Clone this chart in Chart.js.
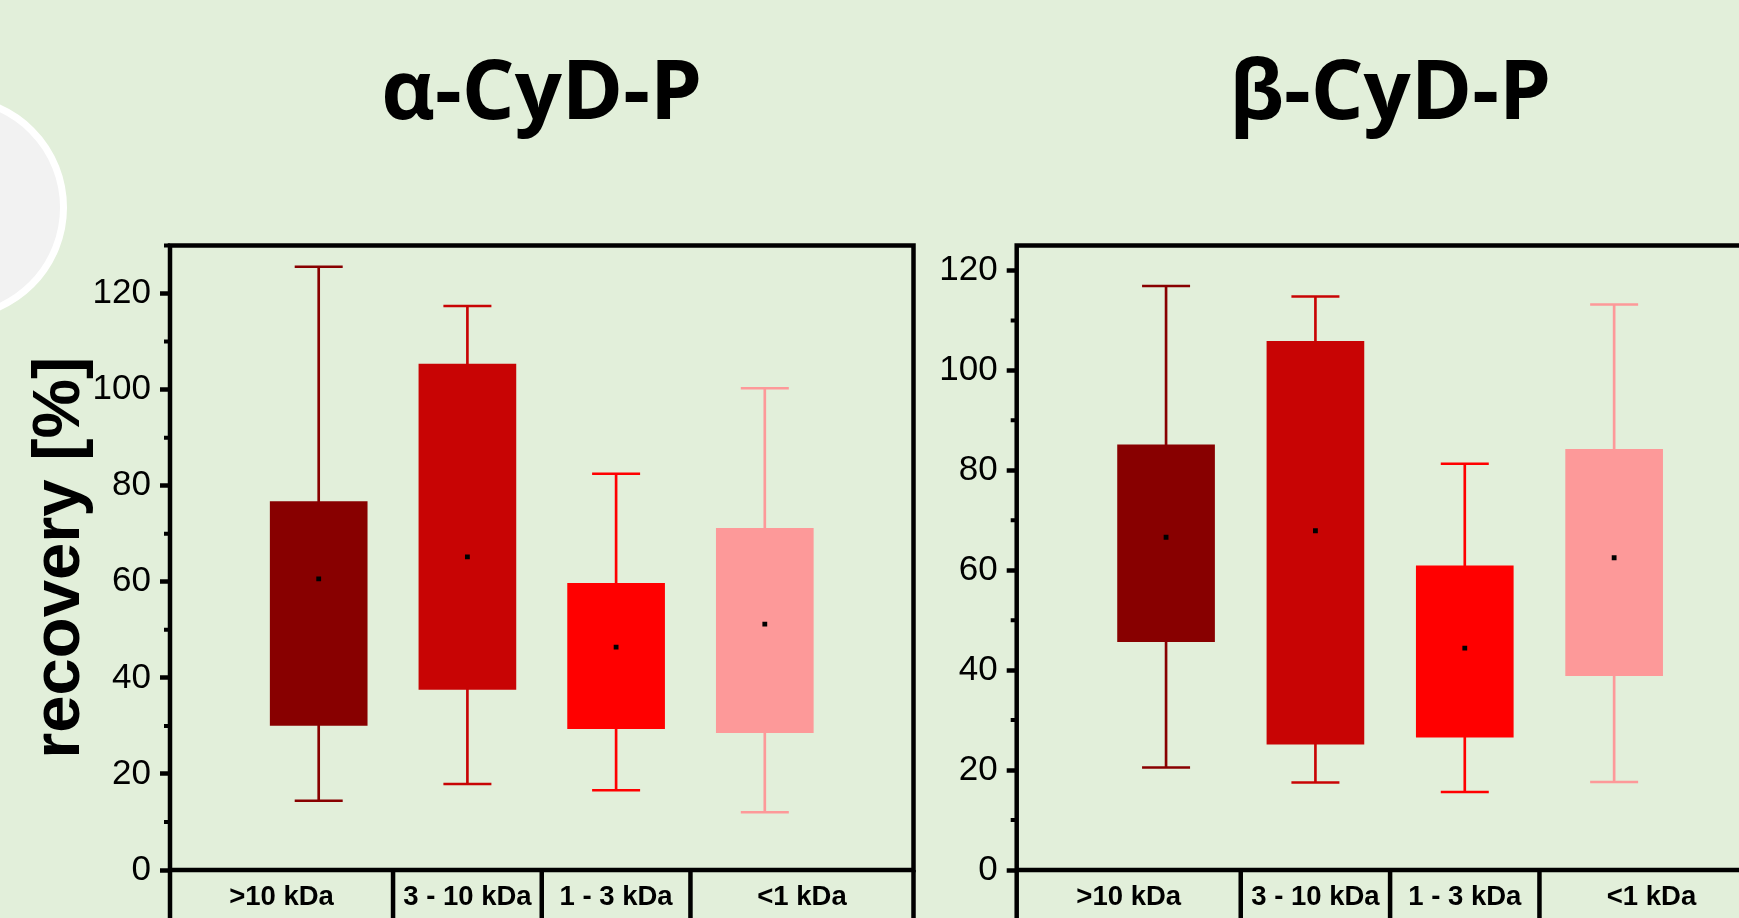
<!DOCTYPE html>
<html>
<head>
<meta charset="utf-8">
<script src="https://cdn.jsdelivr.net/npm/chart.js@4.4.1/dist/chart.umd.min.js"></script>
<style>
html,body{margin:0;padding:0;}
body{width:1739px;height:918px;overflow:hidden;position:relative;background:#e2efda;}
#badge{position:absolute;left:-158px;top:95px;width:225px;height:225px;box-sizing:border-box;border:7px solid #fff;border-radius:50%;background:#f2f2f2;}
canvas{position:absolute;top:0;}
#alphaChart{left:0;}
#betaChart{left:930px;}
</style>
</head>
<body>
<div id="badge"></div>
<canvas id="alphaChart" width="940" height="918"></canvas>
<canvas id="betaChart" width="860" height="918"></canvas>
<script>
const categories=['>10 kDa','3 - 10 kDa','1 - 3 kDa','<1 kDa'];
const slots=[1,2,3,4];
const cellEdges=[0,1.5,2.5,3.5,5];
const boxColors=['#880000','#c80404','#ff0000','#fd9999'];

// alpha-CyD-P
const alphaMin=[14.4,17.9,16.6,12.0];
const alphaQ1=[30.1,37.6,29.4,28.6];
const alphaMean=[60.6,65.2,46.4,51.2];
const alphaQ3=[76.7,105.3,59.7,71.1];
const alphaMax=[125.6,117.4,82.5,100.3];
const alphaTicks=[0,10,20,30,40,50,60,70,80,90,100,110,120,130];

// beta-CyD-P
const betaMin=[20.5,17.5,15.6,17.6];
const betaQ1=[45.7,25.2,26.6,38.9];
const betaMean=[66.6,67.9,44.4,62.5];
const betaQ3=[85.1,105.8,60.9,84.2];
const betaMax=[116.9,114.8,81.3,113.2];
const betaTicks=[0,10,20,30,40,50,60,70,80,90,100,110,120];

const sans='"Liberation Sans", Arial, sans-serif';

function framePlugin(title){
  return {
    id:'frame',
    afterDraw(chart){
      const {ctx,chartArea:a,scales:{x,y}}=chart;
      ctx.save();
      ctx.strokeStyle='#000';
      ctx.lineWidth=4.5;
      ctx.strokeRect(a.left,a.top,a.right-a.left,a.bottom-a.top);
      ctx.beginPath();
      cellEdges.forEach(v=>{const px=x.getPixelForValue(v);ctx.moveTo(px,a.bottom);ctx.lineTo(px,chart.height);});
      ctx.stroke();
      // minor ticks
      ctx.lineWidth=4;
      ctx.beginPath();
      y.ticks.forEach(t=>{
        if(t.value%20){const py=y.getPixelForValue(t.value);ctx.moveTo(a.left-6,py);ctx.lineTo(a.left,py);}
      });
      ctx.stroke();
      ctx.fillStyle='#000';
      ctx.textAlign='center';
      ctx.textBaseline='alphabetic';
      ctx.font='bold 27.5px '+sans;
      categories.forEach((c,i)=>{
        const cx=(x.getPixelForValue(cellEdges[i])+x.getPixelForValue(cellEdges[i+1]))/2;
        ctx.fillText(c,cx,a.bottom+35);
      });
      ctx.font='bold 83px "Open Sans", sans-serif';
      ctx.fillText(title,(a.left+a.right)/2,119);
      ctx.restore();
    }
  };
}

function boxChart(id,title,mins,q1s,means,q3s,maxs,yMax,yTicks,axisWidth,padRight,yTitle){
  return new Chart(document.getElementById(id),{
    type:'bar',
    data:{
      datasets:[
        {type:'bar',data:slots.map((s,i)=>({x:s,y:[mins[i],maxs[i]]})),backgroundColor:boxColors,barThickness:2,grouped:false,order:3},
        {type:'bar',data:slots.map((s,i)=>({x:s,y:[q1s[i],q3s[i]]})),backgroundColor:boxColors,barThickness:97,grouped:false,order:2},
        {type:'scatter',data:slots.flatMap((s,i)=>[{x:s,y:mins[i]},{x:s,y:maxs[i]}]),pointStyle:'line',pointRadius:24,pointBorderWidth:2.5,pointBorderColor:boxColors.flatMap(c=>[c,c]),order:1},
        {type:'scatter',data:slots.map((s,i)=>({x:s,y:means[i]})),pointStyle:'rect',pointRadius:3.4,pointBorderWidth:0,pointBackgroundColor:'#000',order:0}
      ]
    },
    options:{
      responsive:false,
      animation:false,
      events:[],
      layout:{padding:{top:245.5,right:padRight,bottom:48,left:0}},
      plugins:{legend:{display:false},tooltip:{enabled:false}},
      scales:{
        x:{type:'linear',min:0,max:5,offset:false,display:false},
        y:{
          min:0,max:yMax,
          afterBuildTicks:s=>{s.ticks=yTicks.map(v=>({value:v}));},
          afterFit:s=>{s.width=axisWidth;},
          border:{display:false},
          grid:{drawOnChartArea:false,tickLength:10,tickWidth:4.5,tickColor:c=>c.tick&&c.tick.value%20===0?'#000':'transparent'},
          ticks:{autoSkip:false,padding:9,color:'#000',font:{family:sans,size:35},callback:v=>v%20===0?v:''},
          title:{display:!!yTitle,text:yTitle||'',color:'#000',font:{family:sans,size:67,weight:'bold'},padding:{top:20,bottom:0}}
        }
      }
    },
    plugins:[framePlugin(title)]
  });
}

boxChart('alphaChart','α-CyD-P',alphaMin,alphaQ1,alphaMean,alphaQ3,alphaMax,130,alphaTicks,170,23.3,'recovery [%]');
boxChart('betaChart','β-CyD-P',betaMin,betaQ1,betaMean,betaQ3,betaMax,125,betaTicks,86.7,26,'');
</script>
</body>
</html>
